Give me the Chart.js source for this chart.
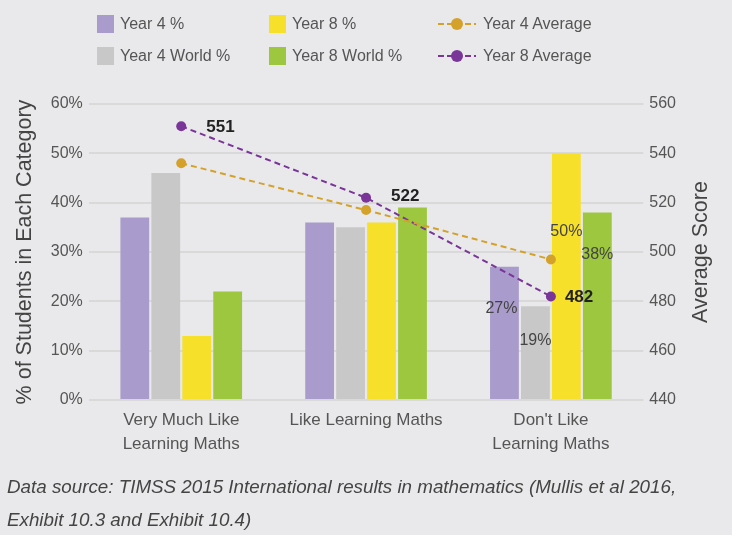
<!DOCTYPE html>
<html>
<head>
<meta charset="utf-8">
<script src="https://cdn.jsdelivr.net/npm/chart.js@4.4.1/dist/chart.umd.min.js"></script>
<style>
  html, body { margin: 0; padding: 0; background: #e9e9eb; }
  #wrap { position: relative; width: 732px; height: 535px; font-family: "Liberation Sans", Arial, sans-serif; color: #555; }
  #chart { position: absolute; left: 0; top: 0; }
  #legend { position: absolute; left: 97px; top: 8px; display: grid; grid-template-columns: 172px 169px auto; grid-auto-rows: 32px; font-size: 16px; color: #555; }
  .item { display: flex; align-items: center; white-space: nowrap; }
  .box { width: 17px; height: 18px; margin-right: 6px; }
  .item svg { margin-right: 7px; }
  #caption { position: absolute; left: 7px; top: 470px; font-size: 18.8px; font-style: italic; line-height: 33px; color: #444; }
</style>
</head>
<body>
<div id="wrap">
  <canvas id="chart" width="732" height="535"></canvas>
  <div id="legend"></div>
  <div id="caption">Data source: TIMSS 2015 International results in mathematics (Mullis et al 2016,<br>Exhibit 10.3 and Exhibit 10.4)</div>
</div>
<script>
// categories and values
const categories = [['Very Much Like', 'Learning Maths'], 'Like Learning Maths', ["Don't Like", 'Learning Maths']];
const year4Pct = [37, 36, 27];
const year4WorldPct = [46, 35, 19];
const year8Pct = [13, 36, 50];
const year8WorldPct = [22, 39, 38];
const year4Avg = [536, 517, 497];
const year8Avg = [551, 522, 482];

const pctTicks = [0, 10, 20, 30, 40, 50, 60];
const scoreTicks = [440, 460, 480, 500, 520, 540, 560];

const FONT = '"Liberation Sans", Arial, sans-serif';

const datasets = [
  { type: 'bar', label: 'Year 4 %', data: year4Pct, backgroundColor: '#a99bcb', yAxisID: 'y', order: 1 },
  { type: 'bar', label: 'Year 4 World %', data: year4WorldPct, backgroundColor: '#c8c8c8', yAxisID: 'y', order: 1 },
  { type: 'bar', label: 'Year 8 %', data: year8Pct, backgroundColor: '#f7e02a', yAxisID: 'y', order: 1 },
  { type: 'bar', label: 'Year 8 World %', data: year8WorldPct, backgroundColor: '#9cc73f', yAxisID: 'y', order: 1 },
  { type: 'line', label: 'Year 4 Average', data: year4Avg, borderColor: '#d4a22a', backgroundColor: '#d4a22a',
    borderDash: [6, 4], borderWidth: 2, pointRadius: 5, pointBorderWidth: 0, yAxisID: 'y1', order: 0 },
  { type: 'line', label: 'Year 8 Average', data: year8Avg, borderColor: '#7a3599', backgroundColor: '#7a3599',
    borderDash: [6, 4], borderWidth: 2, pointRadius: 5, pointBorderWidth: 0, yAxisID: 'y1', order: 0 }
];

// legend laid out in the same 3x2 grid as the picture
const legendOrder = [0, 2, 4, 1, 3, 5];
const legendEl = document.getElementById('legend');
legendOrder.forEach(i => {
  const ds = datasets[i];
  const item = document.createElement('div');
  item.className = 'item';
  if (ds.type === 'bar') {
    item.innerHTML = '<span class="box" style="background:' + ds.backgroundColor + '"></span>' + ds.label;
  } else {
    item.innerHTML = '<svg width="38" height="12"><line x1="0" y1="6" x2="38" y2="6" stroke="' + ds.borderColor +
      '" stroke-width="2" stroke-dasharray="6 3"/><circle cx="19" cy="6" r="6" fill="' + ds.borderColor + '"/></svg>' + ds.label;
  }
  legendEl.appendChild(item);
});

// value labels + right axis title (reads bottom-to-top like the left one)
const extras = {
  id: 'extras',
  afterDatasetsDraw(chart, args, opts) {
    const ctx = chart.ctx;
    ctx.save();
    // bar labels on the last category
    ctx.font = '16px ' + FONT;
    ctx.fillStyle = '#444';
    ctx.textAlign = 'center';
    ctx.textBaseline = 'middle';
    opts.barDx.forEach((dx, di) => {
      const el = chart.getDatasetMeta(di).data[opts.barIndex];
      const v = chart.data.datasets[di].data[opts.barIndex];
      ctx.fillText(v + '%', el.x + dx, el.y + opts.barDy[di]);
    });
    // Year 8 average labels
    ctx.font = 'bold 17px ' + FONT;
    ctx.fillStyle = '#222';
    ctx.textAlign = 'left';
    const meta = chart.getDatasetMeta(5);
    meta.data.forEach((pt, i) => {
      ctx.fillText(String(chart.data.datasets[5].data[i]), pt.x + opts.avgDx[i], pt.y + opts.avgDy[i]);
    });
    // right axis title
    const area = chart.chartArea;
    ctx.font = '21.5px ' + FONT;
    ctx.fillStyle = '#444';
    ctx.textAlign = 'center';
    ctx.translate(opts.rightTitleX, (area.top + area.bottom) / 2);
    ctx.rotate(-Math.PI / 2);
    ctx.fillText('Average Score', 0, 0);
    ctx.restore();
  }
};

new Chart(document.getElementById('chart'), {
  data: { labels: categories, datasets: datasets },
  plugins: [extras],
  options: {
    responsive: false,
    animation: false,
    datasets: { bar: { categoryPercentage: 0.67, barPercentage: 0.93 } },
    layout: { padding: { left: 8, right: 50, top: 104, bottom: 71 } },
    plugins: {
      legend: { display: false },
      tooltip: { enabled: false },
      extras: {
        barIndex: 2,
        barDx: [-3, 0, 0, 0],
        barDy: [42, 34, 78, 42],
        avgDx: [25, 25, 14],
        avgDy: [1, -1, 1],
        rightTitleX: 701
      }
    },
    scales: {
      x: {
        grid: { display: false, drawTicks: false },
        border: { display: false },
        ticks: { color: '#555', font: { family: FONT, size: 17, lineHeight: 1.41 }, padding: 8, maxRotation: 0, autoSkip: false }
      },
      y: {
        position: 'left',
        min: pctTicks[0], max: pctTicks[pctTicks.length - 1],
        afterBuildTicks: s => { s.ticks = pctTicks.map(v => ({ value: v })); },
        grid: { color: '#d9d9d9', lineWidth: 2, drawTicks: false },
        border: { display: false },
        ticks: { color: '#555', font: { family: FONT, size: 16 }, padding: 6, callback: v => v + '%' },
        title: { display: true, text: '% of Students in Each Category', color: '#444',
          font: { family: FONT, size: 21.5 }, padding: { top: 4, bottom: 7 } }
      },
      y1: {
        position: 'right',
        min: scoreTicks[0], max: scoreTicks[scoreTicks.length - 1],
        afterBuildTicks: s => { s.ticks = scoreTicks.map(v => ({ value: v })); },
        grid: { display: false, drawTicks: false },
        border: { display: false },
        ticks: { color: '#555', font: { family: FONT, size: 16 }, padding: 6 }
      }
    }
  }
});
</script>
</body>
</html>
